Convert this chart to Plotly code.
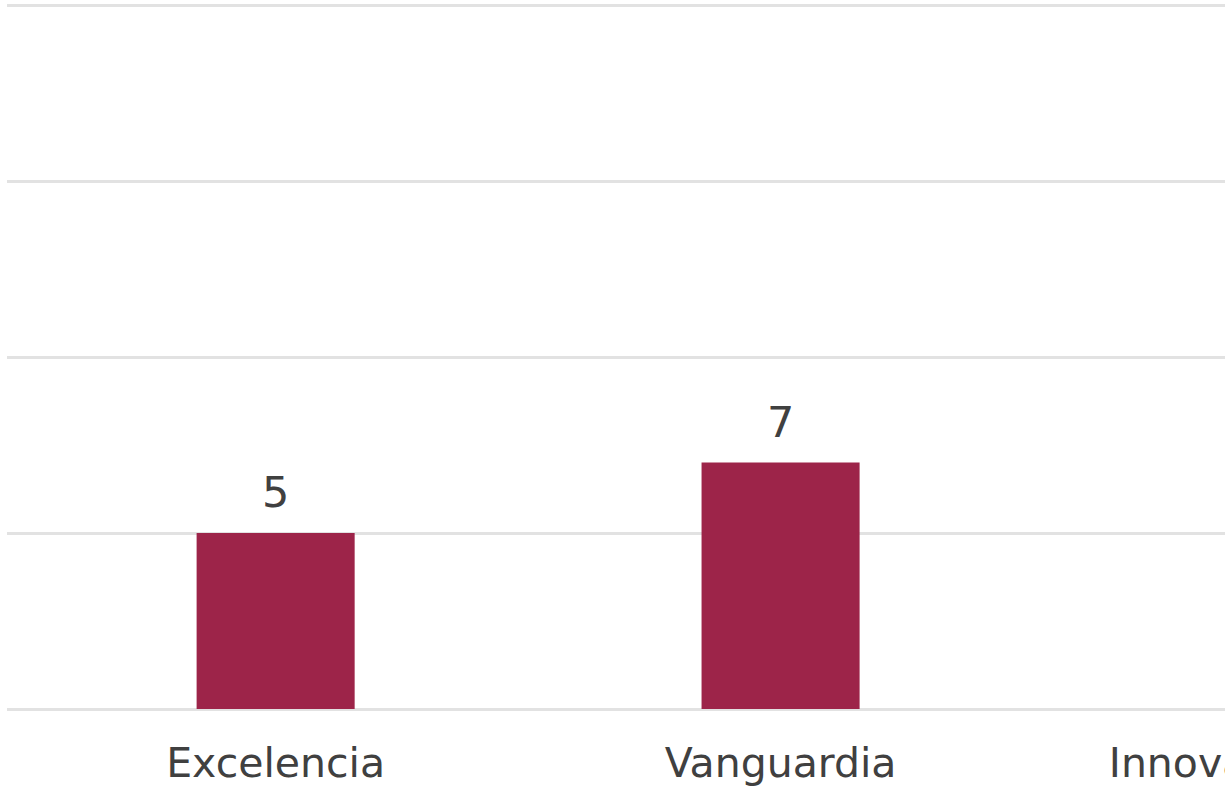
import plotly.graph_objects as go

# Categorias y valores
categorias = ["Excelencia", "Vanguardia", "Innovación social"]
valores = [5, 7, 0]
ticks_y = [0, 5, 10, 15, 20]

guinda = "#9D2449"
gris_texto = "#404040"

fig = go.Figure()

fig.add_trace(go.Bar(
    x=categorias, y=valores,
    marker=dict(color=guinda, line=dict(width=0)),
))

# etiquetas de valor sobre las barras
for cat, val in zip(categorias, valores):
    if val > 0:
        fig.add_annotation(x=cat, y=val, text=str(val), showarrow=False,
                           yanchor="bottom", yshift=14,
                           font=dict(family="DejaVu Sans", size=43, color=gris_texto))

fig.update_layout(
    width=1540, height=787,
    margin=dict(l=7, r=2, t=0, b=73),
    plot_bgcolor="white", paper_bgcolor="white",
    font=dict(family="DejaVu Sans", color=gris_texto),
    bargap=0.687,
    showlegend=False,
    xaxis=dict(range=[-0.532, 2.5], tickfont=dict(size=41), showgrid=False,
               showline=False, ticks="", ticklabelstandoff=21),
    yaxis=dict(range=[-0.142, 20.142], tickvals=ticks_y, showticklabels=False,
               showgrid=True, gridcolor="#e2e2e2", gridwidth=2.5,
               zeroline=False, showline=False),
)

fig.write_html("out.html",
               post_script="document.body.style.margin='0';document.body.style.overflow='hidden';")
